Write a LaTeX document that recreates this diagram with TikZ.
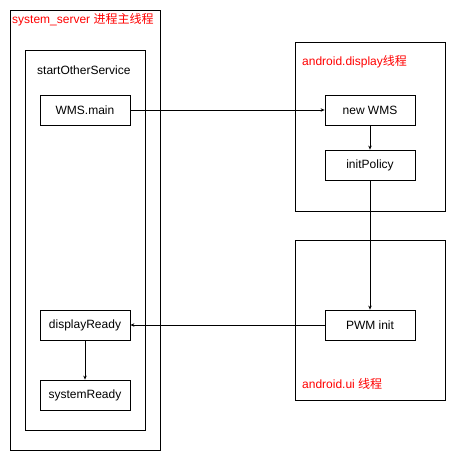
\documentclass[tikz,border=0pt]{standalone}
\usepackage{fontspec}
\setmainfont{Liberation Sans}
\newfontfamily\cjk{Noto Sans CJK SC}
\usetikzlibrary{arrows.meta}

\begin{document}
\begin{tikzpicture}[x=1pt,y=-1pt,font=\fontsize{12}{14}\selectfont,
	box/.style={draw, line width=0.8pt, minimum width=90pt, minimum height=30pt, inner sep=0pt},
	frame/.style={draw, line width=0.8pt},
	title/.style={anchor=west, inner sep=0pt, text=red},
	conn/.style={line width=0.8pt, -{Stealth[length=4pt,width=3.5pt]}}]
\useasboundingbox (0,0) rectangle (456,461);
% threads
\draw[frame] (10,10) rectangle (160,450);
\draw[frame] (25,50) rectangle (145,430);
\draw[frame] (295,42) rectangle (445,211);
\draw[frame] (295,240) rectangle (445,400);
\node[title] (sysT) at (12,20) {system\_server {\cjk 进程主线程}};
\node[anchor=west, inner sep=0pt] (sos) at (37,70) {startOtherService};
\node[title] (dispT) at (302,62) {android.display{\cjk 线程}};
\node[title] (uiT) at (302,384) {android.ui {\cjk 线程}};
% calls
\node[box] (wmsmain) at (85,110) {WMS.main};
\node[box] (dispready) at (85,325) {displayReady};
\node[box] (sysready) at (85,395) {systemReady};
\node[box] (newwms) at (370,110) {new WMS};
\node[box] (initpol) at (370,165) {initPolicy};
\node[box] (pwm) at (370,325) {PWM init};
\draw[conn] (wmsmain) -- (newwms);
\draw[conn] (newwms) -- (initpol);
\draw[conn] (initpol) -- (pwm);
\draw[conn] (pwm) -- (dispready);
\draw[conn] (dispready) -- (sysready);
\end{tikzpicture}
\end{document}
